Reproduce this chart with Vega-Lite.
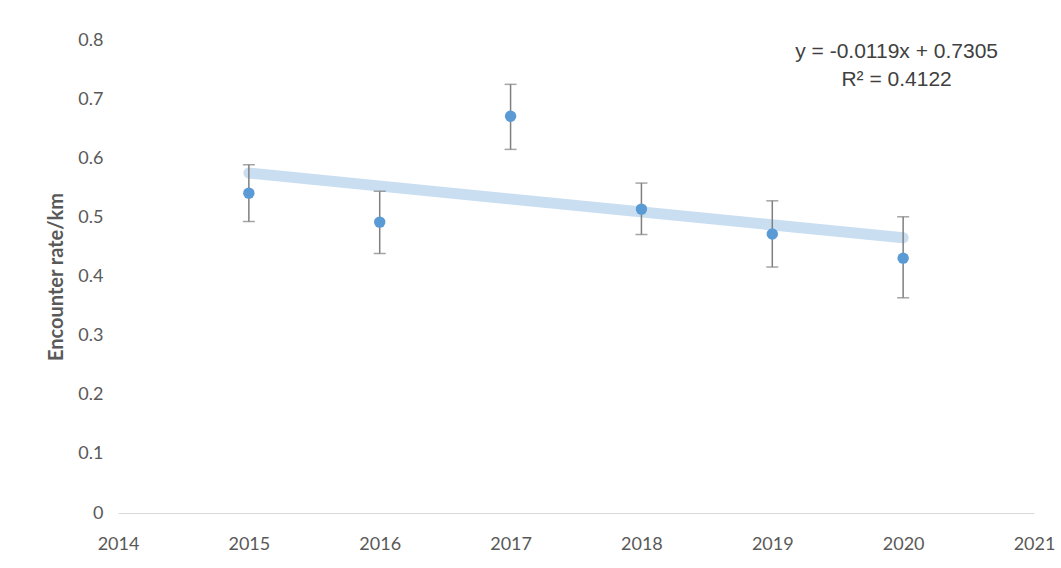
{
  "$schema": "https://vega.github.io/schema/vega-lite/v6.json",
  "width": 916,
  "height": 473,
  "padding": {"left": 118, "top": 40, "right": 27, "bottom": 55},
  "autosize": {"type": "none"},
  "background": "white",
  "config": {"view": {"stroke": null}, "font": "Lato"},
  "datasets": {
    "pts": [
      {"year": 2015, "rate": 0.541, "low": 0.493, "high": 0.589},
      {"year": 2016, "rate": 0.492, "low": 0.439, "high": 0.544},
      {"year": 2017, "rate": 0.671, "low": 0.615, "high": 0.725},
      {"year": 2018, "rate": 0.514, "low": 0.471, "high": 0.558},
      {"year": 2019, "rate": 0.472, "low": 0.416, "high": 0.528},
      {"year": 2020, "rate": 0.431, "low": 0.364, "high": 0.501}
    ],
    "labels": [
      {"year": 2019.95, "rate": 0.78, "text": "y = -0.0119x + 0.7305"},
      {"year": 2019.95, "rate": 0.733, "text": "R² = 0.4122"}
    ]
  },
  "layer": [
    {
      "data": {"name": "pts"},
      "transform": [{"regression": "rate", "on": "year", "extent": [2015, 2020]}],
      "mark": {"type": "line", "color": "#cadef2", "strokeWidth": 11, "strokeCap": "round"},
      "encoding": {
        "x": {
          "field": "year", "type": "quantitative",
          "scale": {"domain": [2014, 2021], "nice": false, "zero": false},
          "axis": {
            "values": [2014, 2015, 2016, 2017, 2018, 2019, 2020, 2021],
            "format": "d", "title": null, "grid": false, "ticks": false,
            "labelFlush": false, "labelBound": false, "labelOverlap": false,
            "domainColor": "#d9d9d9", "domainWidth": 1.2,
            "labelColor": "#595959", "labelFontSize": 18, "labelPadding": 22, "labelFont": "Lato"
          }
        },
        "y": {
          "field": "rate", "type": "quantitative", "title": "Encounter rate/km",
          "scale": {"domain": [0, 0.8], "nice": false},
          "axis": {
            "values": [0, 0.1, 0.2, 0.3, 0.4, 0.5, 0.6, 0.7, 0.8], "format": "~g",
            "labelFlush": false, "labelOverlap": false,
            "titleColor": "#595959", "titleFontSize": 20,
            "titleFontWeight": "bold", "titlePadding": 11, "titleFont": "Lato",
            "grid": false, "ticks": false, "domain": false,
            "labelColor": "#595959", "labelFontSize": 18, "labelPadding": 15, "labelFont": "Lato"
          }
        }
      }
    },
    {
      "data": {"name": "pts"},
      "mark": {"type": "errorbar", "ticks": {"size": 12}, "color": "#7f7f7f", "thickness": 1.5},
      "encoding": {
        "x": {"field": "year", "type": "quantitative"},
        "y": {"field": "low", "type": "quantitative", "title": "Encounter rate/km"},
        "y2": {"field": "high"}
      }
    },
    {
      "data": {"name": "pts"},
      "mark": {"type": "point", "filled": true, "color": "#5b9bd5", "opacity": 1, "size": 130},
      "encoding": {
        "x": {"field": "year", "type": "quantitative"},
        "y": {"field": "rate", "type": "quantitative", "title": "Encounter rate/km"}
      }
    },
    {
      "data": {"name": "labels"},
      "mark": {"type": "text", "font": "Liberation Sans", "fontSize": 21, "color": "#404040", "align": "center", "baseline": "middle"},
      "encoding": {
        "x": {"field": "year", "type": "quantitative"},
        "y": {"field": "rate", "type": "quantitative", "title": "Encounter rate/km"},
        "text": {"field": "text"}
      }
    }
  ]
}
